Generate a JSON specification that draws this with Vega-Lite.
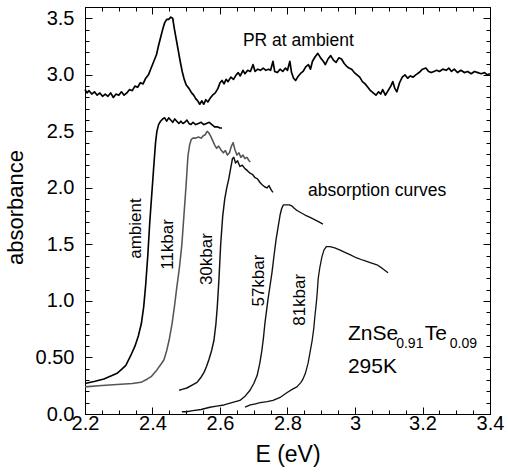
{
  "$schema": "https://vega.github.io/schema/vega-lite/v6.json",
  "autosize": "none",
  "width": 405,
  "height": 407,
  "padding": {"left": 85, "top": 7, "right": 18, "bottom": 58},
  "background": "white",
  "config": {
    "font": "Liberation Sans",
    "view": {"stroke": "#000", "strokeWidth": 1},
    "axis": {"grid": false, "domain": false, "tickColor": "#000", "tickWidth": 1, "labelColor": "#000", "titleColor": "#000", "labelFontWeight": "normal", "titleFontWeight": "normal"}
  },
  "datasets": {
    "curves": [
      {"series": "PR", "E": 2.200, "A": 2.87}, {"series": "PR", "E": 2.206, "A": 2.84}, {"series": "PR", "E": 2.212, "A": 2.86}, {"series": "PR", "E": 2.220, "A": 2.83}, {"series": "PR", "E": 2.228, "A": 2.85}, {"series": "PR", "E": 2.236, "A": 2.82}, {"series": "PR", "E": 2.244, "A": 2.84}, {"series": "PR", "E": 2.252, "A": 2.81}, {"series": "PR", "E": 2.260, "A": 2.83}, {"series": "PR", "E": 2.268, "A": 2.81}, {"series": "PR", "E": 2.276, "A": 2.84}, {"series": "PR", "E": 2.284, "A": 2.80}, {"series": "PR", "E": 2.292, "A": 2.83}, {"series": "PR", "E": 2.300, "A": 2.82}, {"series": "PR", "E": 2.308, "A": 2.85}, {"series": "PR", "E": 2.316, "A": 2.82}, {"series": "PR", "E": 2.324, "A": 2.84}, {"series": "PR", "E": 2.332, "A": 2.87}, {"series": "PR", "E": 2.340, "A": 2.86}, {"series": "PR", "E": 2.348, "A": 2.90}, {"series": "PR", "E": 2.356, "A": 2.89}, {"series": "PR", "E": 2.364, "A": 2.93}, {"series": "PR", "E": 2.372, "A": 2.92}, {"series": "PR", "E": 2.380, "A": 2.97}, {"series": "PR", "E": 2.388, "A": 3.00}, {"series": "PR", "E": 2.396, "A": 3.06}, {"series": "PR", "E": 2.404, "A": 3.12}, {"series": "PR", "E": 2.412, "A": 3.18}, {"series": "PR", "E": 2.418, "A": 3.26}, {"series": "PR", "E": 2.424, "A": 3.33}, {"series": "PR", "E": 2.430, "A": 3.40}, {"series": "PR", "E": 2.436, "A": 3.46}, {"series": "PR", "E": 2.442, "A": 3.49}, {"series": "PR", "E": 2.448, "A": 3.49}, {"series": "PR", "E": 2.454, "A": 3.51}, {"series": "PR", "E": 2.460, "A": 3.50}, {"series": "PR", "E": 2.464, "A": 3.42}, {"series": "PR", "E": 2.470, "A": 3.32}, {"series": "PR", "E": 2.476, "A": 3.22}, {"series": "PR", "E": 2.482, "A": 3.12}, {"series": "PR", "E": 2.488, "A": 3.03}, {"series": "PR", "E": 2.494, "A": 2.96}, {"series": "PR", "E": 2.500, "A": 2.91}, {"series": "PR", "E": 2.508, "A": 2.88}, {"series": "PR", "E": 2.516, "A": 2.84}, {"series": "PR", "E": 2.522, "A": 2.82}, {"series": "PR", "E": 2.528, "A": 2.79}, {"series": "PR", "E": 2.534, "A": 2.77}, {"series": "PR", "E": 2.540, "A": 2.74}, {"series": "PR", "E": 2.546, "A": 2.77}, {"series": "PR", "E": 2.552, "A": 2.74}, {"series": "PR", "E": 2.558, "A": 2.78}, {"series": "PR", "E": 2.564, "A": 2.76}, {"series": "PR", "E": 2.570, "A": 2.79}, {"series": "PR", "E": 2.578, "A": 2.82}, {"series": "PR", "E": 2.586, "A": 2.84}, {"series": "PR", "E": 2.594, "A": 2.88}, {"series": "PR", "E": 2.600, "A": 2.93}, {"series": "PR", "E": 2.606, "A": 2.95}, {"series": "PR", "E": 2.612, "A": 2.92}, {"series": "PR", "E": 2.618, "A": 2.96}, {"series": "PR", "E": 2.624, "A": 2.94}, {"series": "PR", "E": 2.632, "A": 2.98}, {"series": "PR", "E": 2.640, "A": 2.96}, {"series": "PR", "E": 2.648, "A": 3.00}, {"series": "PR", "E": 2.654, "A": 3.02}, {"series": "PR", "E": 2.660, "A": 2.99}, {"series": "PR", "E": 2.668, "A": 3.04}, {"series": "PR", "E": 2.674, "A": 3.01}, {"series": "PR", "E": 2.682, "A": 3.04}, {"series": "PR", "E": 2.690, "A": 3.03}, {"series": "PR", "E": 2.698, "A": 3.09}, {"series": "PR", "E": 2.704, "A": 3.03}, {"series": "PR", "E": 2.712, "A": 3.05}, {"series": "PR", "E": 2.720, "A": 3.04}, {"series": "PR", "E": 2.728, "A": 3.06}, {"series": "PR", "E": 2.736, "A": 3.04}, {"series": "PR", "E": 2.744, "A": 3.05}, {"series": "PR", "E": 2.750, "A": 3.04}, {"series": "PR", "E": 2.757, "A": 3.12}, {"series": "PR", "E": 2.762, "A": 3.03}, {"series": "PR", "E": 2.770, "A": 3.02}, {"series": "PR", "E": 2.778, "A": 3.05}, {"series": "PR", "E": 2.786, "A": 3.03}, {"series": "PR", "E": 2.794, "A": 3.06}, {"series": "PR", "E": 2.800, "A": 3.04}, {"series": "PR", "E": 2.807, "A": 3.12}, {"series": "PR", "E": 2.812, "A": 3.02}, {"series": "PR", "E": 2.818, "A": 2.97}, {"series": "PR", "E": 2.824, "A": 2.95}, {"series": "PR", "E": 2.830, "A": 2.98}, {"series": "PR", "E": 2.838, "A": 3.01}, {"series": "PR", "E": 2.846, "A": 3.03}, {"series": "PR", "E": 2.854, "A": 3.07}, {"series": "PR", "E": 2.862, "A": 3.09}, {"series": "PR", "E": 2.868, "A": 3.05}, {"series": "PR", "E": 2.874, "A": 3.12}, {"series": "PR", "E": 2.882, "A": 3.16}, {"series": "PR", "E": 2.890, "A": 3.19}, {"series": "PR", "E": 2.898, "A": 3.15}, {"series": "PR", "E": 2.906, "A": 3.12}, {"series": "PR", "E": 2.912, "A": 3.09}, {"series": "PR", "E": 2.920, "A": 3.14}, {"series": "PR", "E": 2.928, "A": 3.17}, {"series": "PR", "E": 2.936, "A": 3.13}, {"series": "PR", "E": 2.944, "A": 3.11}, {"series": "PR", "E": 2.952, "A": 3.15}, {"series": "PR", "E": 2.960, "A": 3.14}, {"series": "PR", "E": 2.968, "A": 3.10}, {"series": "PR", "E": 2.974, "A": 3.08}, {"series": "PR", "E": 2.982, "A": 3.06}, {"series": "PR", "E": 2.990, "A": 3.05}, {"series": "PR", "E": 2.998, "A": 3.02}, {"series": "PR", "E": 3.006, "A": 3.00}, {"series": "PR", "E": 3.014, "A": 2.98}, {"series": "PR", "E": 3.022, "A": 2.94}, {"series": "PR", "E": 3.030, "A": 2.92}, {"series": "PR", "E": 3.038, "A": 2.89}, {"series": "PR", "E": 3.046, "A": 2.86}, {"series": "PR", "E": 3.054, "A": 2.84}, {"series": "PR", "E": 3.062, "A": 2.82}, {"series": "PR", "E": 3.070, "A": 2.85}, {"series": "PR", "E": 3.076, "A": 2.83}, {"series": "PR", "E": 3.082, "A": 2.87}, {"series": "PR", "E": 3.090, "A": 2.82}, {"series": "PR", "E": 3.098, "A": 2.86}, {"series": "PR", "E": 3.106, "A": 2.90}, {"series": "PR", "E": 3.112, "A": 2.94}, {"series": "PR", "E": 3.118, "A": 2.88}, {"series": "PR", "E": 3.124, "A": 2.85}, {"series": "PR", "E": 3.132, "A": 2.93}, {"series": "PR", "E": 3.140, "A": 2.98}, {"series": "PR", "E": 3.148, "A": 3.00}, {"series": "PR", "E": 3.156, "A": 2.97}, {"series": "PR", "E": 3.164, "A": 2.99}, {"series": "PR", "E": 3.172, "A": 2.98}, {"series": "PR", "E": 3.180, "A": 3.00}, {"series": "PR", "E": 3.190, "A": 3.02}, {"series": "PR", "E": 3.200, "A": 3.05}, {"series": "PR", "E": 3.210, "A": 3.06}, {"series": "PR", "E": 3.218, "A": 3.03}, {"series": "PR", "E": 3.226, "A": 3.02}, {"series": "PR", "E": 3.234, "A": 3.03}, {"series": "PR", "E": 3.242, "A": 3.04}, {"series": "PR", "E": 3.250, "A": 3.03}, {"series": "PR", "E": 3.260, "A": 3.05}, {"series": "PR", "E": 3.270, "A": 3.04}, {"series": "PR", "E": 3.278, "A": 3.06}, {"series": "PR", "E": 3.286, "A": 3.03}, {"series": "PR", "E": 3.294, "A": 3.05}, {"series": "PR", "E": 3.304, "A": 3.02}, {"series": "PR", "E": 3.314, "A": 3.04}, {"series": "PR", "E": 3.324, "A": 3.02}, {"series": "PR", "E": 3.334, "A": 3.03}, {"series": "PR", "E": 3.344, "A": 3.01}, {"series": "PR", "E": 3.354, "A": 3.03}, {"series": "PR", "E": 3.364, "A": 3.02}, {"series": "PR", "E": 3.374, "A": 3.01}, {"series": "PR", "E": 3.384, "A": 3.02}, {"series": "PR", "E": 3.392, "A": 3.00}, {"series": "PR", "E": 3.400, "A": 3.01},

      {"series": "ambient", "E": 2.200, "A": 0.27}, {"series": "ambient", "E": 2.230, "A": 0.29}, {"series": "ambient", "E": 2.256, "A": 0.31}, {"series": "ambient", "E": 2.280, "A": 0.34}, {"series": "ambient", "E": 2.295, "A": 0.36}, {"series": "ambient", "E": 2.310, "A": 0.40}, {"series": "ambient", "E": 2.321, "A": 0.43}, {"series": "ambient", "E": 2.336, "A": 0.52}, {"series": "ambient", "E": 2.348, "A": 0.60}, {"series": "ambient", "E": 2.358, "A": 0.69}, {"series": "ambient", "E": 2.367, "A": 0.80}, {"series": "ambient", "E": 2.374, "A": 0.95}, {"series": "ambient", "E": 2.380, "A": 1.15}, {"series": "ambient", "E": 2.386, "A": 1.40}, {"series": "ambient", "E": 2.392, "A": 1.70}, {"series": "ambient", "E": 2.398, "A": 1.95}, {"series": "ambient", "E": 2.404, "A": 2.20}, {"series": "ambient", "E": 2.409, "A": 2.40}, {"series": "ambient", "E": 2.413, "A": 2.50}, {"series": "ambient", "E": 2.418, "A": 2.56}, {"series": "ambient", "E": 2.424, "A": 2.59}, {"series": "ambient", "E": 2.430, "A": 2.61}, {"series": "ambient", "E": 2.436, "A": 2.62}, {"series": "ambient", "E": 2.442, "A": 2.59}, {"series": "ambient", "E": 2.448, "A": 2.62}, {"series": "ambient", "E": 2.454, "A": 2.60}, {"series": "ambient", "E": 2.460, "A": 2.58}, {"series": "ambient", "E": 2.466, "A": 2.61}, {"series": "ambient", "E": 2.472, "A": 2.59}, {"series": "ambient", "E": 2.478, "A": 2.57}, {"series": "ambient", "E": 2.484, "A": 2.59}, {"series": "ambient", "E": 2.490, "A": 2.57}, {"series": "ambient", "E": 2.496, "A": 2.58}, {"series": "ambient", "E": 2.502, "A": 2.60}, {"series": "ambient", "E": 2.508, "A": 2.57}, {"series": "ambient", "E": 2.514, "A": 2.56}, {"series": "ambient", "E": 2.520, "A": 2.58}, {"series": "ambient", "E": 2.528, "A": 2.56}, {"series": "ambient", "E": 2.536, "A": 2.57}, {"series": "ambient", "E": 2.544, "A": 2.58}, {"series": "ambient", "E": 2.552, "A": 2.56}, {"series": "ambient", "E": 2.560, "A": 2.57}, {"series": "ambient", "E": 2.568, "A": 2.58}, {"series": "ambient", "E": 2.576, "A": 2.56}, {"series": "ambient", "E": 2.584, "A": 2.54}, {"series": "ambient", "E": 2.592, "A": 2.54}, {"series": "ambient", "E": 2.600, "A": 2.53}, {"series": "ambient", "E": 2.606, "A": 2.53},

      {"series": "11kbar", "E": 2.200, "A": 0.24}, {"series": "11kbar", "E": 2.240, "A": 0.25}, {"series": "11kbar", "E": 2.295, "A": 0.26}, {"series": "11kbar", "E": 2.340, "A": 0.27}, {"series": "11kbar", "E": 2.366, "A": 0.28}, {"series": "11kbar", "E": 2.385, "A": 0.31}, {"series": "11kbar", "E": 2.396, "A": 0.33}, {"series": "11kbar", "E": 2.413, "A": 0.39}, {"series": "11kbar", "E": 2.425, "A": 0.44}, {"series": "11kbar", "E": 2.434, "A": 0.48}, {"series": "11kbar", "E": 2.442, "A": 0.56}, {"series": "11kbar", "E": 2.449, "A": 0.65}, {"series": "11kbar", "E": 2.458, "A": 0.80}, {"series": "11kbar", "E": 2.465, "A": 0.95}, {"series": "11kbar", "E": 2.472, "A": 1.12}, {"series": "11kbar", "E": 2.480, "A": 1.30}, {"series": "11kbar", "E": 2.487, "A": 1.50}, {"series": "11kbar", "E": 2.493, "A": 1.75}, {"series": "11kbar", "E": 2.499, "A": 2.00}, {"series": "11kbar", "E": 2.505, "A": 2.28}, {"series": "11kbar", "E": 2.510, "A": 2.38}, {"series": "11kbar", "E": 2.515, "A": 2.43}, {"series": "11kbar", "E": 2.520, "A": 2.44}, {"series": "11kbar", "E": 2.528, "A": 2.44}, {"series": "11kbar", "E": 2.536, "A": 2.45}, {"series": "11kbar", "E": 2.544, "A": 2.44}, {"series": "11kbar", "E": 2.550, "A": 2.46}, {"series": "11kbar", "E": 2.556, "A": 2.47}, {"series": "11kbar", "E": 2.562, "A": 2.50}, {"series": "11kbar", "E": 2.566, "A": 2.49}, {"series": "11kbar", "E": 2.572, "A": 2.46}, {"series": "11kbar", "E": 2.578, "A": 2.42}, {"series": "11kbar", "E": 2.584, "A": 2.38}, {"series": "11kbar", "E": 2.590, "A": 2.35}, {"series": "11kbar", "E": 2.596, "A": 2.37}, {"series": "11kbar", "E": 2.602, "A": 2.34}, {"series": "11kbar", "E": 2.610, "A": 2.31}, {"series": "11kbar", "E": 2.616, "A": 2.33}, {"series": "11kbar", "E": 2.622, "A": 2.29}, {"series": "11kbar", "E": 2.628, "A": 2.31}, {"series": "11kbar", "E": 2.634, "A": 2.37}, {"series": "11kbar", "E": 2.639, "A": 2.40}, {"series": "11kbar", "E": 2.644, "A": 2.34}, {"series": "11kbar", "E": 2.650, "A": 2.29}, {"series": "11kbar", "E": 2.656, "A": 2.31}, {"series": "11kbar", "E": 2.662, "A": 2.27}, {"series": "11kbar", "E": 2.668, "A": 2.29}, {"series": "11kbar", "E": 2.674, "A": 2.26}, {"series": "11kbar", "E": 2.680, "A": 2.27}, {"series": "11kbar", "E": 2.686, "A": 2.24}, {"series": "11kbar", "E": 2.690, "A": 2.23},

      {"series": "30kbar", "E": 2.479, "A": 0.21}, {"series": "30kbar", "E": 2.490, "A": 0.22}, {"series": "30kbar", "E": 2.502, "A": 0.23}, {"series": "30kbar", "E": 2.520, "A": 0.26}, {"series": "30kbar", "E": 2.532, "A": 0.28}, {"series": "30kbar", "E": 2.545, "A": 0.33}, {"series": "30kbar", "E": 2.553, "A": 0.37}, {"series": "30kbar", "E": 2.560, "A": 0.42}, {"series": "30kbar", "E": 2.567, "A": 0.48}, {"series": "30kbar", "E": 2.575, "A": 0.56}, {"series": "30kbar", "E": 2.582, "A": 0.65}, {"series": "30kbar", "E": 2.588, "A": 0.80}, {"series": "30kbar", "E": 2.592, "A": 0.95}, {"series": "30kbar", "E": 2.597, "A": 1.20}, {"series": "30kbar", "E": 2.602, "A": 1.50}, {"series": "30kbar", "E": 2.608, "A": 1.75}, {"series": "30kbar", "E": 2.614, "A": 1.90}, {"series": "30kbar", "E": 2.620, "A": 2.00}, {"series": "30kbar", "E": 2.626, "A": 2.08}, {"series": "30kbar", "E": 2.632, "A": 2.18}, {"series": "30kbar", "E": 2.637, "A": 2.26}, {"series": "30kbar", "E": 2.641, "A": 2.27}, {"series": "30kbar", "E": 2.646, "A": 2.22}, {"series": "30kbar", "E": 2.652, "A": 2.24}, {"series": "30kbar", "E": 2.659, "A": 2.19}, {"series": "30kbar", "E": 2.666, "A": 2.20}, {"series": "30kbar", "E": 2.674, "A": 2.17}, {"series": "30kbar", "E": 2.682, "A": 2.15}, {"series": "30kbar", "E": 2.689, "A": 2.13}, {"series": "30kbar", "E": 2.696, "A": 2.12}, {"series": "30kbar", "E": 2.704, "A": 2.09}, {"series": "30kbar", "E": 2.711, "A": 2.08}, {"series": "30kbar", "E": 2.718, "A": 2.05}, {"series": "30kbar", "E": 2.724, "A": 2.03}, {"series": "30kbar", "E": 2.732, "A": 2.01}, {"series": "30kbar", "E": 2.739, "A": 2.00}, {"series": "30kbar", "E": 2.745, "A": 2.02}, {"series": "30kbar", "E": 2.752, "A": 1.98}, {"series": "30kbar", "E": 2.757, "A": 1.96},

      {"series": "57kbar", "E": 2.487, "A": 0.02}, {"series": "57kbar", "E": 2.500, "A": 0.02}, {"series": "57kbar", "E": 2.520, "A": 0.03}, {"series": "57kbar", "E": 2.544, "A": 0.04}, {"series": "57kbar", "E": 2.570, "A": 0.06}, {"series": "57kbar", "E": 2.590, "A": 0.07}, {"series": "57kbar", "E": 2.612, "A": 0.08}, {"series": "57kbar", "E": 2.635, "A": 0.10}, {"series": "57kbar", "E": 2.659, "A": 0.12}, {"series": "57kbar", "E": 2.675, "A": 0.16}, {"series": "57kbar", "E": 2.689, "A": 0.21}, {"series": "57kbar", "E": 2.700, "A": 0.27}, {"series": "57kbar", "E": 2.710, "A": 0.34}, {"series": "57kbar", "E": 2.718, "A": 0.45}, {"series": "57kbar", "E": 2.724, "A": 0.56}, {"series": "57kbar", "E": 2.729, "A": 0.68}, {"series": "57kbar", "E": 2.733, "A": 0.80}, {"series": "57kbar", "E": 2.742, "A": 1.01}, {"series": "57kbar", "E": 2.748, "A": 1.13}, {"series": "57kbar", "E": 2.754, "A": 1.25}, {"series": "57kbar", "E": 2.760, "A": 1.40}, {"series": "57kbar", "E": 2.766, "A": 1.54}, {"series": "57kbar", "E": 2.772, "A": 1.65}, {"series": "57kbar", "E": 2.778, "A": 1.76}, {"series": "57kbar", "E": 2.783, "A": 1.82}, {"series": "57kbar", "E": 2.788, "A": 1.85}, {"series": "57kbar", "E": 2.796, "A": 1.85}, {"series": "57kbar", "E": 2.805, "A": 1.85}, {"series": "57kbar", "E": 2.813, "A": 1.84}, {"series": "57kbar", "E": 2.820, "A": 1.82}, {"series": "57kbar", "E": 2.828, "A": 1.80}, {"series": "57kbar", "E": 2.840, "A": 1.78}, {"series": "57kbar", "E": 2.852, "A": 1.76}, {"series": "57kbar", "E": 2.867, "A": 1.74}, {"series": "57kbar", "E": 2.880, "A": 1.72}, {"series": "57kbar", "E": 2.893, "A": 1.70}, {"series": "57kbar", "E": 2.905, "A": 1.68},

      {"series": "81kbar", "E": 2.674, "A": 0.06}, {"series": "81kbar", "E": 2.690, "A": 0.08}, {"series": "81kbar", "E": 2.705, "A": 0.09}, {"series": "81kbar", "E": 2.719, "A": 0.10}, {"series": "81kbar", "E": 2.740, "A": 0.11}, {"series": "81kbar", "E": 2.757, "A": 0.12}, {"series": "81kbar", "E": 2.780, "A": 0.15}, {"series": "81kbar", "E": 2.799, "A": 0.19}, {"series": "81kbar", "E": 2.815, "A": 0.22}, {"series": "81kbar", "E": 2.828, "A": 0.24}, {"series": "81kbar", "E": 2.840, "A": 0.28}, {"series": "81kbar", "E": 2.846, "A": 0.31}, {"series": "81kbar", "E": 2.853, "A": 0.36}, {"series": "81kbar", "E": 2.861, "A": 0.45}, {"series": "81kbar", "E": 2.867, "A": 0.55}, {"series": "81kbar", "E": 2.873, "A": 0.65}, {"series": "81kbar", "E": 2.878, "A": 0.76}, {"series": "81kbar", "E": 2.881, "A": 0.86}, {"series": "81kbar", "E": 2.885, "A": 0.97}, {"series": "81kbar", "E": 2.888, "A": 1.07}, {"series": "81kbar", "E": 2.891, "A": 1.20}, {"series": "81kbar", "E": 2.896, "A": 1.30}, {"series": "81kbar", "E": 2.902, "A": 1.39}, {"series": "81kbar", "E": 2.908, "A": 1.45}, {"series": "81kbar", "E": 2.915, "A": 1.48}, {"series": "81kbar", "E": 2.926, "A": 1.48}, {"series": "81kbar", "E": 2.940, "A": 1.47}, {"series": "81kbar", "E": 2.956, "A": 1.45}, {"series": "81kbar", "E": 2.970, "A": 1.43}, {"series": "81kbar", "E": 2.985, "A": 1.41}, {"series": "81kbar", "E": 3.005, "A": 1.38}, {"series": "81kbar", "E": 3.024, "A": 1.36}, {"series": "81kbar", "E": 3.045, "A": 1.34}, {"series": "81kbar", "E": 3.065, "A": 1.32}, {"series": "81kbar", "E": 3.080, "A": 1.29}, {"series": "81kbar", "E": 3.098, "A": 1.25}
    ],
    "rotLabels": [
      {"label": "ambient", "E": 2.351, "A": 1.64},
      {"label": "11kbar", "E": 2.446, "A": 1.50},
      {"label": "30kbar", "E": 2.561, "A": 1.37},
      {"label": "57kbar", "E": 2.716, "A": 1.18},
      {"label": "81kbar", "E": 2.837, "A": 1.01}
    ],
    "notes": [
      {"label": "PR at ambient", "E": 2.668, "A": 3.30},
      {"label": "absorption curves", "E": 2.861, "A": 1.97}
    ],
    "formula": [
      {"label": "ZnSe", "E": 2.979, "A": 0.655},
      {"label": "Te", "E": 3.207, "A": 0.655},
      {"label": "295K", "E": 2.979, "A": 0.363}
    ],
    "subscripts": [
      {"label": "0.91", "E": 3.122, "A": 0.584},
      {"label": "0.09", "E": 3.281, "A": 0.584}
    ]
  },
  "resolve": {"axis": {"x": "independent", "y": "independent"}},
  "layer": [
    {
      "data": {"name": "curves"},
      "mark": {"type": "line", "interpolate": "linear", "strokeJoin": "round"},
      "encoding": {
        "x": {"field": "E", "type": "quantitative", "scale": {"domain": [2.2, 3.4], "nice": false, "zero": false},
          "axis": {"orient": "bottom", "ticks": false, "tickSize": 0, "title": "E (eV)", "titleFontSize": 23, "titleBaseline": "middle", "titleY": 40,
            "values": [2.2, 2.4, 2.6, 2.8, 3.0, 3.2, 3.4],
            "labelExpr": "format(datum.value,'~g')",
            "labelFontSize": 20, "labelFlush": false, "labelOverlap": false, "labelPadding": -1}},
        "y": {"field": "A", "type": "quantitative", "scale": {"domain": [0, 3.6], "nice": false, "zero": false},
          "axis": {"orient": "left", "offset": -7, "tickSize": 7, "title": "absorbance", "titleFontSize": 22, "titleBaseline": "middle", "titleX": -77, "titleY": 200,
            "values": [0, 0.5, 1, 1.5, 2, 2.5, 3, 3.5],
            "labelExpr": "abs(datum.value-0.5)<0.01 ? '0.50' : format(datum.value,'.1f')",
            "labelFontSize": 20, "labelOverlap": false, "labelPadding": 11}},
        "detail": {"field": "series", "type": "nominal"},
        "color": {"field": "series", "type": "nominal", "legend": null,
          "scale": {"domain": ["PR", "ambient", "11kbar", "30kbar", "57kbar", "81kbar"], "range": ["#000000", "#000000", "#555555", "#111111", "#111111", "#111111"]}},
        "strokeWidth": {"field": "series", "type": "nominal", "legend": null,
          "scale": {"domain": ["PR", "ambient", "11kbar", "30kbar", "57kbar", "81kbar"], "range": [1.7, 1.3, 0.9, 1.1, 1.1, 1.2]}}
      }
    },
    {
      "data": {"name": "rotLabels"},
      "mark": {"type": "text", "angle": 270, "align": "center", "baseline": "middle", "fontSize": 17, "color": "#000"},
      "encoding": {
        "x": {"field": "E", "type": "quantitative",
          "axis": {"orient": "bottom", "offset": -4, "tickSize": 4, "title": null, "labels": false, "tickCount": 24}},
        "y": {"field": "A", "type": "quantitative",
          "axis": {"orient": "left", "offset": -4, "tickSize": 4, "title": null, "labels": false,
            "values": [0.1, 0.2, 0.3, 0.4, 0.6, 0.7, 0.8, 0.9, 1.1, 1.2, 1.3, 1.4, 1.6, 1.7, 1.8, 1.9, 2.1, 2.2, 2.3, 2.4, 2.6, 2.7, 2.8, 2.9, 3.1, 3.2, 3.3, 3.4]}},
        "text": {"field": "label", "type": "nominal"}
      }
    },
    {
      "data": {"name": "notes"},
      "mark": {"type": "text", "align": "left", "baseline": "middle", "fontSize": 17.5, "color": "#000"},
      "encoding": {
        "x": {"field": "E", "type": "quantitative",
          "axis": {"orient": "top", "offset": -7, "tickSize": 7, "title": null, "labels": false, "tickCount": 6}},
        "y": {"field": "A", "type": "quantitative",
          "axis": {"orient": "right", "offset": -7, "tickSize": 7, "title": null, "labels": false,
            "values": [0, 0.5, 1, 1.5, 2, 2.5, 3, 3.5]}},
        "text": {"field": "label", "type": "nominal"}
      }
    },
    {
      "data": {"name": "formula"},
      "mark": {"type": "text", "align": "left", "baseline": "alphabetic", "fontSize": 21, "color": "#000"},
      "encoding": {
        "x": {"field": "E", "type": "quantitative",
          "axis": {"orient": "top", "offset": -4, "tickSize": 4, "title": null, "labels": false, "tickCount": 24}},
        "y": {"field": "A", "type": "quantitative",
          "axis": {"orient": "right", "offset": -4, "tickSize": 4, "title": null, "labels": false,
            "values": [0.1, 0.2, 0.3, 0.4, 0.6, 0.7, 0.8, 0.9, 1.1, 1.2, 1.3, 1.4, 1.6, 1.7, 1.8, 1.9, 2.1, 2.2, 2.3, 2.4, 2.6, 2.7, 2.8, 2.9, 3.1, 3.2, 3.3, 3.4]}},
        "text": {"field": "label", "type": "nominal"}
      }
    },
    {
      "data": {"name": "subscripts"},
      "mark": {"type": "text", "align": "left", "baseline": "alphabetic", "fontSize": 14, "color": "#000"},
      "encoding": {
        "x": {"field": "E", "type": "quantitative",
          "axis": {"orient": "bottom", "offset": -7, "tickSize": 7, "title": null, "labels": false, "tickCount": 6}},
        "y": {"field": "A", "type": "quantitative", "axis": null},
        "text": {"field": "label", "type": "nominal"}
      }
    }
  ]
}
